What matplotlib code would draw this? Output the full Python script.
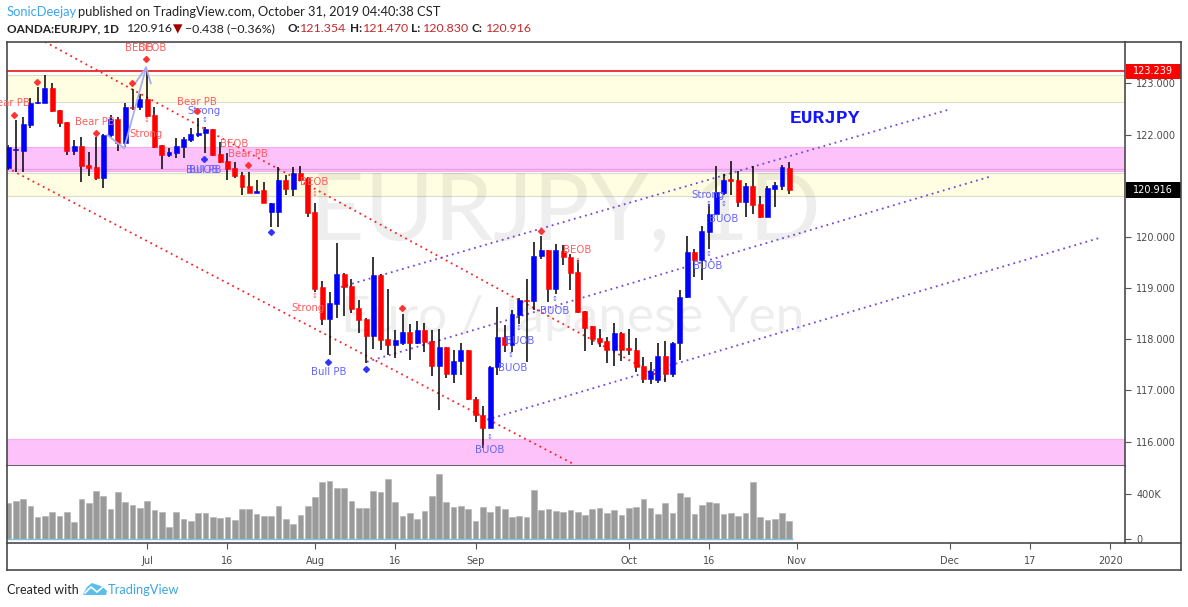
import matplotlib.pyplot as plt
import matplotlib.transforms as mtransforms
from matplotlib.lines import Line2D
from matplotlib.patches import Rectangle, Polygon
import numpy as np
import pandas as pd

W, H = 1188, 607

# daily bars, OANDA:EURJPY (4 Jun .. 31 Oct 2019)
dates = pd.bdate_range('2019-06-04', '2019-10-31')
opens = [121.34, 121.69, 121.68, 122.19, 122.61, 122.62, 122.90, 122.48, 122.25, 121.68,
         121.78, 121.40, 121.37, 121.16, 121.99, 122.30, 121.84, 122.54, 122.53,
         122.69, 122.38, 121.79, 121.60, 121.63, 121.76, 121.89, 122.00, 122.02, 122.10,
         121.61, 121.48, 121.34, 121.21, 120.99, 120.86, 120.92, 120.49, 120.49, 121.11,
         120.93, 121.24, 121.16, 120.49, 119.03, 118.40, 118.69, 119.27, 119.04, 118.61,
         118.39, 118.07, 119.26, 118.00, 117.89, 117.92, 118.14, 117.93, 118.18, 117.97,
         117.47, 117.84, 117.32, 117.58, 117.79, 116.84, 116.53, 116.27, 117.45, 118.05,
         117.89, 118.47, 118.77, 118.75, 119.62, 119.74, 118.98, 119.73, 119.61, 119.32,
         118.55, 118.25, 118.03, 117.97, 117.79, 118.13, 117.81, 117.80, 117.48, 117.22,
         117.20, 117.67, 117.33, 117.93, 118.82, 119.71, 119.54, 120.10, 120.45, 120.86,
         121.12, 121.11, 120.69, 120.99, 120.64, 120.39, 120.93, 121.00, 121.354]
highs = [121.80, 122.28, 122.35, 122.71, 122.93, 123.16, 123.01, 122.48, 122.25, 121.89,
         121.95, 121.65, 121.96, 122.01, 122.38, 122.35, 122.61, 122.88, 122.80,
         123.239, 122.54, 121.80, 121.73, 121.93, 121.96, 122.12, 122.32, 122.14, 122.11,
         121.86, 121.63, 121.47, 121.27, 121.27, 121.11, 121.08, 120.67, 121.37, 121.21,
         121.37, 121.39, 121.17, 120.66, 119.13, 118.93, 119.89, 119.29, 119.17, 118.77,
         118.41, 119.60, 119.27, 118.99, 118.18, 118.49, 118.30, 118.36, 118.31, 118.18,
         118.21, 117.85, 117.79, 117.93, 117.80, 116.88, 116.70, 117.47, 118.64, 118.28,
         118.57, 118.80, 119.18, 119.90, 120.02, 119.74, 119.86, 119.84, 119.67, 119.55,
         118.56, 118.26, 118.20, 118.05, 118.31, 118.14, 118.20, 118.02, 117.66, 117.56,
         117.92, 117.97, 117.94, 118.96, 120.02, 119.76, 120.21, 120.64, 121.38, 121.22,
         121.48, 121.28, 121.05, 121.38, 120.79, 120.99, 121.08, 121.40, 121.470]
lows = [121.30, 121.27, 121.27, 122.12, 122.60, 122.61, 122.43, 122.15, 121.60, 121.60,
        121.08, 121.18, 121.11, 120.96, 121.96, 121.67, 121.76, 122.48, 122.48,
        122.35, 121.73, 121.32, 121.57, 121.54, 121.54, 121.86, 121.96, 121.63, 121.58,
        121.44, 121.12, 121.16, 120.82, 120.85, 120.85, 120.66, 120.20, 120.20, 120.82,
        120.79, 121.10, 120.38, 118.93, 118.28, 117.69, 118.41, 118.45, 118.51, 118.12,
        117.53, 117.82, 117.80, 117.69, 117.63, 117.89, 117.60, 117.90, 117.76, 117.28,
        116.61, 117.24, 117.14, 117.30, 116.81, 116.39, 115.87, 116.26, 117.30, 117.76,
        117.76, 118.30, 117.56, 118.57, 119.56, 118.72, 118.88, 119.45, 118.97, 118.51,
        117.78, 117.89, 117.84, 117.53, 117.48, 117.58, 117.69, 117.37, 117.14, 117.13,
        117.14, 117.17, 117.26, 117.60, 118.80, 119.21, 119.15, 119.76, 120.44, 120.82,
        120.82, 120.59, 120.39, 120.45, 120.36, 120.38, 120.59, 120.91, 120.830]
closes = [121.76, 121.70, 122.21, 122.62, 122.63, 122.90, 122.46, 122.23, 121.68, 121.78,
          121.39, 121.35, 121.16, 122.00, 122.30, 121.84, 122.54, 122.52, 122.69,
          122.37, 121.76, 121.60, 121.66, 121.78, 121.92, 122.01, 122.01, 122.10, 121.60,
          121.47, 121.32, 121.18, 120.98, 120.86, 120.90, 120.67, 120.67, 121.11, 120.93,
          121.24, 121.12, 120.47, 118.99, 118.40, 118.70, 119.27, 119.03, 118.59, 118.38,
          118.07, 119.26, 117.99, 117.89, 117.99, 118.14, 117.92, 118.18, 117.95, 117.47,
          117.84, 117.32, 117.58, 117.79, 116.83, 116.52, 116.27, 117.45, 118.05, 117.89,
          118.49, 118.77, 118.75, 119.63, 119.74, 118.99, 119.74, 119.60, 119.30, 118.54,
          118.23, 118.00, 117.95, 117.79, 118.13, 117.79, 117.80, 117.46, 117.22, 117.39,
          117.67, 117.33, 117.93, 118.82, 119.71, 119.54, 120.12, 120.45, 120.88, 121.12,
          121.10, 120.69, 120.99, 120.62, 120.38, 120.95, 121.01, 121.36, 120.916]
volume_k = [318, 342, 355, 300, 197, 209, 239, 209, 239, 155,
            355, 318, 427, 382, 273, 418, 327, 309, 282,
            336, 264, 245, 106, 245, 179, 161, 236, 236, 200,
            191, 200, 170, 273, 273, 227, 209, 209, 300, 179,
            136, 218, 300, 373, 509, 518, 455, 455, 336, 282,
            282, 427, 418, 536, 327, 209, 236, 182, 255, 382,
            582, 327, 291, 300, 273, 161, 291, 245, 300, 273,
            200, 209, 200, 436, 264, 273, 255, 245, 264, 245,
            218, 270, 279, 233, 264, 215, 279, 288, 355, 279,
            227, 318, 233, 409, 379, 227, 309, 333, 324, 227,
            233, 206, 233, 509, 197, 170, 179, 233, 161]

last_price = 120.916
top_line = 123.239
yellow_zones = [(122.64, 123.16), (120.80, 121.25)]
pink_zones = [(121.29, 121.76), (115.40, 116.05)]

# drawn trend lines: (bar position, price) -> (bar position, price)
red_lines = [((5.0, 123.81), (90.0, 117.21)),
             ((-0.2, 121.35), (77.6, 115.55))]
purple_lines = [((44.8, 118.99), (128.7, 122.48)),
                ((49.1, 117.56), (134.8, 121.19)),
                ((65.6, 116.43), (149.5, 119.98))]

# indicator labels (bar position, price, text)
red_labels = [(17.97, 123.69, 'BEOB'), (19.75, 123.69, 'BEOB'), (0.2, 122.61, 'Bear PB'),
              (11.88, 122.24, 'Bear PB'), (18.86, 122.01, 'Strong'), (25.85, 122.64, 'Bear PB'),
              (30.92, 121.81, 'BEOB'), (32.84, 121.61, 'Bear PB'), (41.88, 121.07, 'BEOB'),
              (41.05, 118.61, 'Strong'), (77.95, 119.74, 'BEOB')]
blue_labels = [(26.81, 122.46, 'Strong'), (26.81, 121.31, 'Bull PB'), (26.81, 121.31, 'BUOB'),
               (43.84, 117.36, 'Bull PB'), (70.0, 117.97, 'BUOB'), (69.07, 117.43, 'BUOB'),
               (65.88, 115.84, 'BUOB'), (74.85, 118.55, 'BUOB'), (95.85, 120.82, 'Strong'),
               (97.97, 120.35, 'BUOB'), (95.85, 119.43, 'BUOB')]
red_dots = [(0.78, 122.38), (3.89, 123.03), (11.97, 122.02), (16.9, 123.00), (18.86, 123.47),
            (25.89, 122.45), (32.84, 121.40), (53.89, 118.61), (72.93, 120.12)]
blue_dots = [(26.85, 121.52), (35.95, 120.09), (43.84, 117.56), (48.96, 117.41)]
red_arrows = [(18.86, 122.28), (41.88, 120.84), (41.88, 118.85), (77.95, 119.53)]
blue_arrows = [(26.81, 122.28), (69.93, 118.22), (68.86, 117.69), (65.89, 116.10),
               (74.89, 118.79), (95.89, 120.64), (97.95, 120.64), (95.89, 119.67)]
swing_path = [(13.56, 121.99), (15.85, 121.73), (18.86, 123.31)]

tick_dates = ['2019-07-01', '2019-07-16', '2019-08-01', '2019-08-16', '2019-09-02',
              '2019-10-01', '2019-10-16', '2019-11-01', '2019-12-02', '2019-12-17', '2020-01-01']
tick_labels = ['Jul', '16', 'Aug', '16', 'Sep', 'Oct', '16', 'Nov', 'Dec', '17', '2020']

plt.rcParams['font.family'] = ['DejaVu Sans']

fig = plt.figure(figsize=(W / 100, H / 100), dpi=100)
fig.patch.set_facecolor('white')


def fx(x):
    return x / W


def fy(y):
    return 1 - y / H


ax = fig.add_axes([fx(7), fy(466), 1118 / W, 424 / H])
axv = fig.add_axes([fx(7), fy(543), 1118 / W, 77 / H], sharex=ax)

x = np.arange(len(dates))
o = np.array(opens)
c = np.array(closes)
up = c >= o
colors = np.where(up, '#0000ff', '#ff0000')

# zones
for lo, hi in yellow_zones:
    ax.axhspan(lo, hi, facecolor='#fffde2', edgecolor='#dcdcc8', lw=0.8, zorder=0.5)
for lo, hi in pink_zones:
    ax.axhspan(lo, hi, facecolor='#fdc2f9', edgecolor='#f2aef0', lw=0.8, zorder=0.5)
ax.axhline(pink_zones[0][0] + 0.03, color='#e4a3e4', lw=1, zorder=0.6)
ax.axhline(top_line, color='#e8262b', lw=1.3, zorder=1)

# watermark
ax.text(0.499, 0.597, 'EURJPY, 1D', transform=ax.transAxes, ha='center', va='center',
        fontsize=68, family='Lato', color='black', alpha=0.065, zorder=0.8)
ax.text(0.506, 0.349, 'Euro / Japanese Yen', transform=ax.transAxes, ha='center', va='center',
        fontsize=37, family='Lato', color='black', alpha=0.065, zorder=0.8)

# trend lines
for (x0, y0), (x1, y1) in red_lines:
    ax.plot([x0, x1], [y0, y1], color='#ff2020', lw=1.3, ls=(0, (1, 2.2)), zorder=1.5)
for (x0, y0), (x1, y1) in purple_lines:
    ax.plot([x0, x1], [y0, y1], color='#7448d8', lw=1.3, ls=(0, (1, 2.2)), zorder=1.5)

# candles
ax.vlines(x, lows, highs, color='black', lw=1.1, zorder=2)
body = np.maximum(np.abs(c - o), 0.025)
ax.bar(x, body, bottom=np.minimum(o, c), width=0.68, color=colors, edgecolor=colors,
       lw=0.4, zorder=3)

# indicator marks
sx, sy = zip(*swing_path)
ax.plot(sx, sy, color='#a7aef2', lw=1.3, zorder=4)
ax.plot([17.36, 18.86, 19.5], [123.0, 123.31, 123.0], color='#a7aef2', lw=1.3, zorder=4)
for px, py, t in red_labels:
    ax.text(px, py, t, color='#ff5c5c', fontsize=7.3, ha='center', va='center', zorder=5,
            clip_on=False)
for px, py, t in blue_labels:
    ax.text(px, py, t, color='#6464ff', fontsize=7.3, ha='center', va='center', zorder=5)
rx, ry = zip(*red_dots)
ax.plot(rx, ry, 'D', ms=3, color='#ff3333', zorder=5)
bx, by = zip(*blue_dots)
ax.plot(bx, by, 'D', ms=3, color='#3333ff', zorder=5)
for px, py in red_arrows:
    ax.text(px, py, '↕', color='#ff5c5c', fontsize=5, ha='center', va='center', zorder=5)
for px, py in blue_arrows:
    ax.text(px, py, '↕', color='#5c5cff', fontsize=5, ha='center', va='center', zorder=5)

ax.text(111.9, 122.32, 'EURJPY', color='#1515ff', fontsize=14, family='Liberation Mono',
        fontweight='bold', ha='center', va='center', zorder=5)

# axes look
ax.set_xlim(-0.2, 153.0)
ax.set_ylim(115.525, 123.807)
ax.yaxis.tick_right()
ax.set_yticks(range(116, 124))
ax.set_yticklabels([f'{v:.3f}' for v in range(116, 124)])
ax.tick_params(axis='y', length=4, color='#555555', labelcolor='#4a4a4a', labelsize=7, pad=4)
ax.tick_params(axis='x', bottom=False, labelbottom=False)
for s in ax.spines.values():
    s.set_color('#4a4a4a')
    s.set_linewidth(1.2)

# price tags on the scale
blend = mtransforms.blended_transform_factory(ax.transAxes, ax.transData)
for price, bg in [(top_line, '#ff0000'), (last_price, '#000000')]:
    ax.add_patch(Rectangle((1.001, price - 0.148), 55 / 1118, 0.296, transform=blend,
                           facecolor=bg, edgecolor='none', clip_on=False, zorder=6))
    ax.text(1.0 + 28 / 1118, price, f'{price:.3f}', transform=blend, color='white',
            fontsize=7, ha='center', va='center', clip_on=False, zorder=7)

# volume
axv.bar(x, volume_k, width=0.78, color='#9a9a9a', edgecolor='#b0b0b0', lw=0.4)
axv.hlines(0, x[0] - 0.5, x[-1] + 0.5, color='#7fc4dc', lw=1)
axv.set_ylim(-36, 654)
axv.yaxis.tick_right()
axv.set_yticks([0, 400])
axv.set_yticklabels(['0', '400K'])
axv.tick_params(axis='y', length=4, color='#555555', labelcolor='#4a4a4a', labelsize=7, pad=4)
cal = pd.bdate_range('2019-06-04', '2020-01-01')
axv.set_xticks(cal.get_indexer(pd.to_datetime(tick_dates)))
axv.set_xticklabels(tick_labels)
axv.tick_params(axis='x', length=4, color='#555555', labelcolor='#4a4a4a', labelsize=7, pad=5)
for s in axv.spines.values():
    s.set_color('#4a4a4a')
    s.set_linewidth(1.2)
axv.spines['top'].set_visible(False)

# outer frame of the chart area
for (x0, y0, x1, y1) in [(1181, 42, 1181, 570), (1125, 42, 1181, 42), (7, 570, 1181, 570),
                         (7, 543, 7, 570), (1125, 543, 1181, 543)]:
    fig.add_artist(Line2D([fx(x0), fx(x1)], [fy(y0), fy(y1)], color='#4a4a4a', lw=1.2))

# header
hf = ['Lato', 'DejaVu Sans']
fig.text(fx(7), fy(12), 'SonicDeejay', color='#3aa6ee', fontsize=9.3, family=hf, va='center')
fig.text(fx(78), fy(12), 'published on TradingView.com, October 31, 2019 04:40:38 CST',
         color='#222222', fontsize=9.3, family=hf, va='center')
pieces = [(7, 'OANDA:EURJPY, 1D', '#222222', 'bold'), (127, '120.916', '#222222', 'normal'),
          (173, '▼', '#a00000', 'normal'), (185, '−0.438 (−0.36%)', '#222222', 'normal'),
          (287, 'O:', '#222222', 'bold'), (300, '121.354', '#c62828', 'normal'),
          (350, 'H:', '#222222', 'bold'), (363, '121.470', '#c62828', 'normal'),
          (411, 'L:', '#222222', 'bold'), (423, '120.830', '#c62828', 'normal'),
          (472, 'C:', '#222222', 'bold'), (486, '120.916', '#c62828', 'normal')]
for px, t, col, wt in pieces:
    size = 8.5 if wt == 'bold' else 8.9
    fig.text(fx(px), fy(29), t, color=col, fontsize=size, fontweight=wt, family=hf, va='center')

# footer
fig.text(fx(7), fy(590), 'Created with', color='#222222', fontsize=9, family=hf, va='center')
cloud = [(83, 594), (87, 587), (92, 583), (98, 585), (103, 587), (107, 591), (106, 595), (84, 595)]
fig.add_artist(Polygon([(fx(a), fy(b)) for a, b in cloud], closed=True, facecolor='#5bbfea',
                       edgecolor='none'))
zig = [(85, 593), (91, 587), (97, 592), (104, 586)]
fig.add_artist(Line2D([fx(a) for a, b in zig], [fy(b) for a, b in zig], color='white', lw=1.2))
fig.text(fx(108), fy(590), 'TradingView', color='#3ea6e0', fontsize=9.3, family=hf, va='center')

fig.savefig('out.png', dpi=100)
